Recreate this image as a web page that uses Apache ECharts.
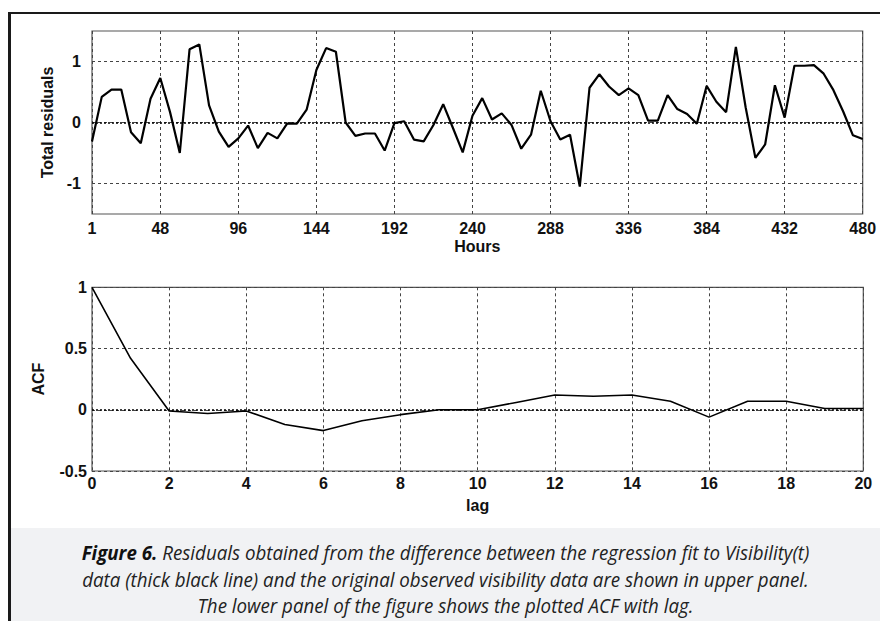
<!DOCTYPE html>
<html>
<head>
<meta charset="utf-8">
<script src="https://cdn.jsdelivr.net/npm/echarts@6/dist/echarts.min.js"></script>
<style>
  html, body { margin: 0; padding: 0; background: #ffffff; }
  #wrap { position: relative; width: 880px; height: 621px; overflow: hidden; background: #fff; }
  #chart { position: absolute; left: 0; top: 0; width: 880px; height: 621px; }
  #frameLeft { position: absolute; left: 8px; top: 12px; width: 3px; height: 609px; background: #1a1a1a; }
  #frameTop { position: absolute; left: 8px; top: 12px; width: 872px; height: 2px; background: #1a1a1a; }
  #caption { position: absolute; left: 11px; top: 528px; width: 869px; height: 93px; background: #f1f2f4; }
  #captionText { position: absolute; left: 0; top: 12px; width: 869px; text-align: center;
    font-family: "Open Sans", sans-serif; font-style: italic; font-size: 19.5px; line-height: 26.7px; color: #222;
    transform: scaleX(0.96); transform-origin: 434px 0; }
  #captionText b { font-weight: 700; color: #111; }
</style>
</head>
<body>
<div id="wrap">
  <div id="chart"></div>
  <div id="frameLeft"></div>
  <div id="frameTop"></div>
  <div id="caption"><div id="captionText"><b>Figure 6.</b> Residuals obtained from the difference between the regression fit to Visibility(t)<br>data (thick black line) and the original observed visibility data are shown in upper panel.<br>The lower panel of the figure shows the plotted ACF with lag.</div></div>
</div>
<script>
// ---- Upper panel data ----
const hours = [6,12,18,24,30,36,42,48,54,60,66,72,78,84,90,96,102,108,114,120,
  126,132,138,144,150,156,162,168,174,180,186,192,198,204,210,216,222,228,234,240,
  246,252,258,264,270,276,282,288,294,300,306,312,318,324,330,336,342,348,354,360,
  366,372,378,384,390,396,402,408,414,420,426,432,438,444,450,456,462,468,474,480];
const residuals = [-0.31,0.42,0.54,0.54,-0.16,-0.34,0.39,0.73,0.17,-0.50,1.20,1.28,0.28,-0.15,-0.40,-0.26,-0.05,-0.42,-0.17,-0.26,
  -0.02,-0.02,0.21,0.86,1.22,1.16,0.00,-0.22,-0.18,-0.18,-0.46,-0.01,0.02,-0.28,-0.31,-0.04,0.30,-0.09,-0.49,0.11,
  0.40,0.05,0.15,-0.04,-0.43,-0.20,0.52,0.02,-0.28,-0.20,-1.05,0.57,0.79,0.59,0.45,0.56,0.45,0.03,0.03,0.45,
  0.22,0.14,-0.02,0.60,0.34,0.17,1.24,0.25,-0.58,-0.36,0.61,0.08,0.93,0.93,0.94,0.80,0.53,0.18,-0.21,-0.27];
const hourTickValues = [6,48,96,144,192,240,288,336,384,432,480];
const hourTickLabels = ['1','48','96','144','192','240','288','336','384','432','480'];
const residualTickValues = [-1,0,1];

// ---- Lower panel data ----
const lags = [0,1,2,3,4,5,6,7,8,9,10,11,12,13,14,15,16,17,18,19,20];
const acf = [1.00,0.42,-0.01,-0.03,-0.01,-0.12,-0.17,-0.09,-0.04,0.00,0.00,0.06,0.12,0.11,0.12,0.07,-0.06,0.07,0.07,0.01,0.01];

const labelFont = { fontFamily: '"Liberation Sans", Arial, sans-serif', fontWeight: 'bold', fontSize: 16, color: '#111' };
const gridLine = { show: true, lineStyle: { color: '#444', width: 1, type: [3, 3] } };
const zeroMark = {
  silent: true, symbol: 'none', label: { show: false },
  lineStyle: { color: '#000', width: 1.5, type: [2, 2] },
  data: [{ yAxis: 0 }]
};

const chart = echarts.init(document.getElementById('chart'), null, { renderer: 'svg' });
chart.setOption({
  animation: false,
  backgroundColor: 'transparent',
  grid: [
    { left: 92, top: 31, width: 770.7, height: 183, show: true, borderColor: '#555', borderWidth: 1.2, backgroundColor: 'transparent' },
    { left: 92, top: 287.3, width: 771.3, height: 183.7, show: true, borderColor: '#555', borderWidth: 1.2, backgroundColor: 'transparent' }
  ],
  xAxis: [
    {
      gridIndex: 0, type: 'value', min: 6, max: 480,
      name: 'Hours', nameLocation: 'middle', nameGap: 24, nameTextStyle: labelFont,
      axisLine: { show: false },
      axisTick: { show: false, customValues: hourTickValues },
      axisLabel: Object.assign({ customValues: hourTickValues, margin: 6,
        formatter: v => hourTickLabels[hourTickValues.indexOf(v)] }, labelFont),
      splitLine: gridLine
    },
    {
      gridIndex: 1, type: 'value', min: 0, max: 20, interval: 2,
      name: 'lag', nameLocation: 'middle', nameGap: 26, nameTextStyle: labelFont,
      axisLine: { show: false },
      axisTick: { show: false },
      axisLabel: Object.assign({ margin: 4 }, labelFont),
      splitLine: gridLine
    }
  ],
  yAxis: [
    {
      gridIndex: 0, type: 'value', min: -1.5, max: 1.5,
      name: 'Total residuals', nameLocation: 'middle', nameGap: 31, nameTextStyle: labelFont,
      axisLine: { show: false },
      axisTick: { show: false, customValues: residualTickValues },
      axisLabel: Object.assign({ customValues: residualTickValues, margin: 11 }, labelFont),
      splitLine: gridLine
    },
    {
      gridIndex: 1, type: 'value', min: -0.5, max: 1, interval: 0.5,
      name: 'ACF', nameLocation: 'middle', nameGap: 46, nameTextStyle: labelFont,
      axisLine: { show: false },
      axisTick: { show: false },
      axisLabel: Object.assign({ margin: 5 }, labelFont),
      splitLine: gridLine
    }
  ],
  series: [
    {
      type: 'line', xAxisIndex: 0, yAxisIndex: 0,
      data: hours.map((h, i) => [h, residuals[i]]),
      symbol: 'none', lineStyle: { color: '#000', width: 2.2 },
      markLine: zeroMark, z: 5
    },
    {
      type: 'line', xAxisIndex: 1, yAxisIndex: 1,
      data: lags.map((l, i) => [l, acf[i]]),
      symbol: 'none', lineStyle: { color: '#000', width: 1.6 },
      markLine: zeroMark, z: 5
    }
  ]
});
</script>
</body>
</html>
